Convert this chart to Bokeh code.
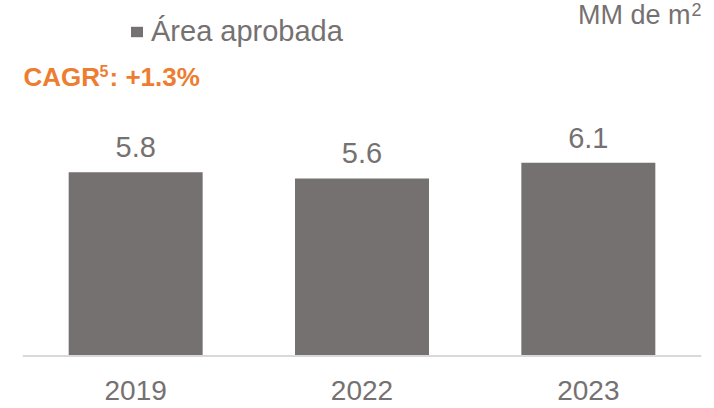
from bokeh.plotting import figure
from bokeh.models import Range1d, FactorRange, Span, Label, Legend, LegendItem, ColumnDataSource
from bokeh.core.properties import value
from bokeh.embed import file_html
from bokeh.resources import INLINE

# ---- data ----
years = ["2019", "2022", "2023"]
area = [5.8, 5.6, 6.1]
area_labels = ["5.8", "5.6", "6.1"]
series_name = "Área aprobada"
unit_text = "MM de m"
unit_sup = "2"
cagr_head = "CAGR"
cagr_sup = "5"
cagr_tail = ": +1.3%"

GRAY = "#767171"
TEXT_GRAY = "#767171"
ORANGE = "#ED7D31"
FONT = "Liberation Sans"

W, H = 714, 408
LEFT, RIGHT = 22, 701
PX_PER_UNIT = 31.7
BASE = 355.5  # px from top of figure to baseline
CAT_W = (RIGHT - LEFT) / len(years)


def ydata(px_from_top):
    return (BASE - px_from_top) / PX_PER_UNIT


def xdata(px_from_left):
    return (px_from_left - LEFT) / CAT_W


p = figure(width=W, height=H, output_backend="svg", toolbar_location=None,
           x_range=FactorRange(*years, range_padding=0),
           y_range=Range1d(ydata(H), ydata(0)),
           min_border_left=LEFT, min_border_right=W - RIGHT, min_border_top=0, min_border_bottom=0)
p.xaxis.visible = False
p.yaxis.visible = False
p.grid.visible = False
p.outline_line_color = None
p.background_fill_color = "white"

src = ColumnDataSource(dict(year=years, area=area, label=area_labels))
bars = p.vbar(x="year", top="area", width=0.592, source=src, fill_color=GRAY, line_color=None)

# baseline
p.add_layout(Span(location=0, dimension="width", line_color="#D9D9D9", line_width=2))

# value labels
p.text(x="year", y="area", text="label", source=src, y_offset=-25,
       text_align="center", text_baseline="middle",
       text_font=value(FONT), text_font_size="29px", text_color=TEXT_GRAY)

# category labels
cat_src = ColumnDataSource(dict(year=years, y=[0] * len(years)))
p.text(x="year", y="y", text="year", source=cat_src, y_offset=34,
       text_align="center", text_baseline="middle",
       text_font=value(FONT), text_font_size="28px", text_color=TEXT_GRAY)

# legend
legend = Legend(items=[LegendItem(label=series_name, renderers=[bars])],
                location=(107, 360), orientation="horizontal",
                glyph_width=15, glyph_height=13, label_standoff=7,
                padding=0, margin=0, border_line_alpha=0, background_fill_alpha=0,
                label_text_font=FONT, label_text_font_size="29px", label_text_color=TEXT_GRAY)
p.add_layout(legend)

# unit text (top right) with superscript
p.add_layout(Label(x=xdata(690), y=ydata(14), text=unit_text, text_align="right",
                   text_baseline="middle", text_font=FONT, text_font_size="27px",
                   text_color=TEXT_GRAY))
p.add_layout(Label(x=xdata(691), y=ydata(9), text=unit_sup, text_align="left",
                   text_baseline="middle", text_font=FONT, text_font_size="18px",
                   text_color=TEXT_GRAY))

# CAGR text with superscript
p.add_layout(Label(x=xdata(23), y=ydata(76), text=cagr_head, text_align="left",
                   text_baseline="middle", text_font=FONT, text_font_size="26px",
                   text_font_style="bold", text_color=ORANGE))
p.add_layout(Label(x=xdata(99), y=ydata(70), text=cagr_sup, text_align="left",
                   text_baseline="middle", text_font=FONT, text_font_size="16px",
                   text_font_style="bold", text_color=ORANGE))
p.add_layout(Label(x=xdata(109), y=ydata(76), text=cagr_tail, text_align="left",
                   text_baseline="middle", text_font=FONT, text_font_size="26px",
                   text_font_style="bold", text_color=ORANGE))

open("out.html", "w").write(file_html(p, INLINE))
